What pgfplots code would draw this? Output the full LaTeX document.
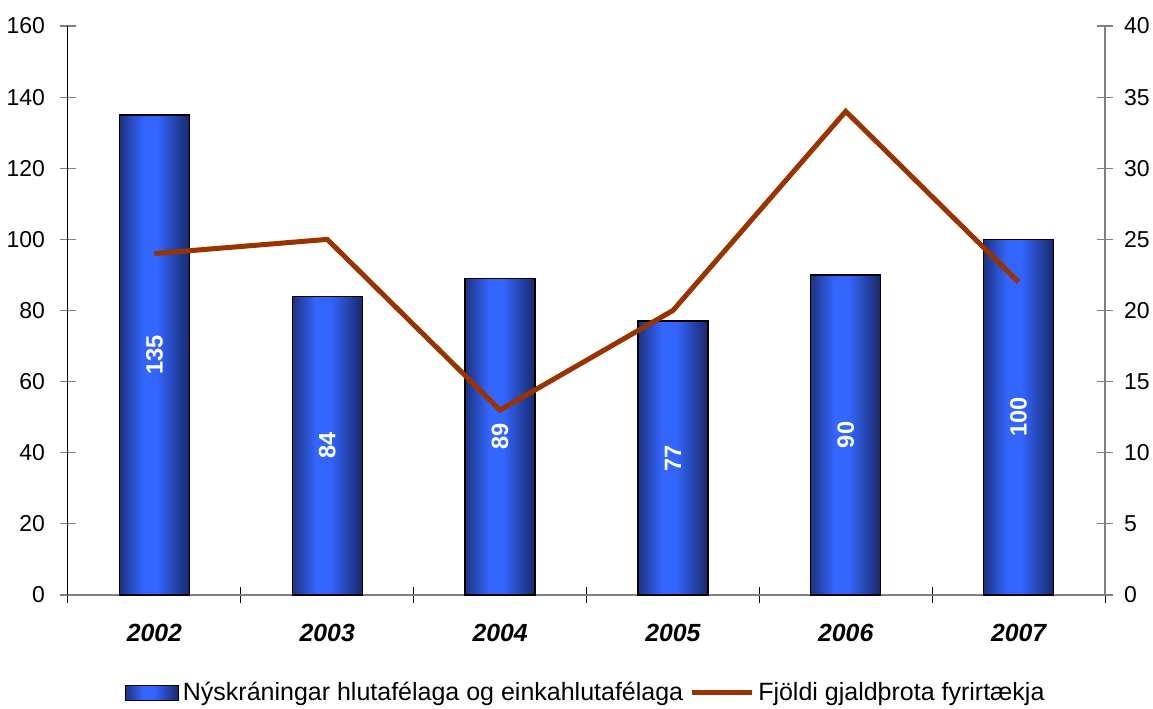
\documentclass[border=0pt]{standalone}
\usepackage{pgfplots}
\pgfplotsset{compat=1.18}
\usepackage{fontspec}
\setmainfont{Liberation Sans}
\definecolor{bdarkL}{RGB}{30,50,130}
\definecolor{bbright}{RGB}{51,102,255}
\definecolor{bdarkR}{RGB}{25,40,105}
\definecolor{linec}{RGB}{153,51,0}
\definecolor{axgray}{RGB}{128,128,128}
\pgfdeclarehorizontalshading{barshade}{100bp}{color(0bp)=(bdarkL); color(25bp)=(bdarkL); color(42bp)=(bbright); color(52bp)=(bbright); color(75bp)=(bdarkR); color(100bp)=(bdarkR)}
\pgfplotsset{mybar/.style={ybar, bar shift=0pt, bar width=35pt, draw=black, line width=0.7pt, shading=barshade, shading angle=0}}
\begin{document}
\begin{tikzpicture}
\begin{axis}[
  scale only axis, width=518.5pt, height=284.5pt,
  xmin=-0.5, xmax=5.5, ymin=0, ymax=160,
  axis x line*=bottom, axis y line*=left,
  x axis line style={axgray, line width=0.75pt},
  y axis line style={black, line width=0.5pt},
  xtick={-0.5,0.5,1.5,2.5,3.5,4.5,5.5},
  x tick label as interval,
  xticklabels={2002,2003,2004,2005,2006,2007},
  ytick={0,20,...,160},
  tick align=center, major tick length=8pt,
  x tick style={black, line width=0.5pt},
  y tick style={axgray, line width=0.6pt},
  /pgf/number format/assume math mode=true,
  xticklabel style={font=\fontsize{12.4}{14}\selectfont\bfseries\itshape, yshift=-7pt},
  yticklabel style={font=\fontsize{11.5}{13}\selectfont, xshift=-4pt},
  legend columns=-1,
  legend style={at={(0.5,-0.172)}, anchor=center, draw=none, fill=none,
    font=\fontsize{12.5}{14}\selectfont, /tikz/every even column/.append style={column sep=1pt}},
]
\coordinate (bl) at (rel axis cs:0,0);
\coordinate (tr) at (rel axis cs:1,1);
\addplot[mybar,
  legend image code/.code={\draw[draw=black, line width=0.7pt, shading=barshade] (0pt,-3.8pt) rectangle (26.5pt,3.8pt);}]
  coordinates {(0,135)};
\addlegendentry{Nýskráningar hlutafélaga og einkahlutafélaga}
\addplot[mybar, forget plot] coordinates {(1,84)};
\addplot[mybar, forget plot] coordinates {(2,89)};
\addplot[mybar, forget plot] coordinates {(3,77)};
\addplot[mybar, forget plot] coordinates {(4,90)};
\addplot[mybar, forget plot] coordinates {(5,100)};
\addlegendimage{linec, line width=2.5pt, legend image code/.code={\draw[linec, line width=2.5pt] (0pt,0pt) -- (30pt,0pt);}}
\addlegendentry{Fjöldi gjaldþrota fyrirtækja}
\addplot[forget plot, draw=none, mark=none, nodes near coords, point meta=explicit symbolic,
  nodes near coords align={center},
  every node near coord/.append style={rotate=90, anchor=center, text=white, font=\fontsize{11.8}{13}\selectfont\bfseries}]
  coordinates {(0,67.5)[135] (1,42)[84] (2,44.5)[89] (3,38.5)[77] (4,45)[90] (5,50)[100]};
\end{axis}
\begin{axis}[
  scale only axis, width=518.5pt, height=284.5pt,
  xmin=-0.5, xmax=5.5, ymin=0, ymax=40,
  axis x line=none, axis y line*=right,
  y axis line style={axgray, line width=0.75pt},
  ytick={0,5,...,40},
  tick align=center, major tick length=8pt,
  y tick style={axgray, line width=0.6pt},
  /pgf/number format/assume math mode=true,
  yticklabel style={font=\fontsize{11.5}{13}\selectfont, xshift=2pt},
]
\addplot[linec, line width=2.5pt, mark=none, line join=miter] coordinates {(0,24) (1,25) (2,13) (3,20) (4,34) (5,22)};
\end{axis}
\pgfresetboundingbox
\path ([shift={(-34pt,-56.5pt)}]bl) rectangle ([shift={(24pt,13pt)}]tr);
\end{tikzpicture}
\end{document}
